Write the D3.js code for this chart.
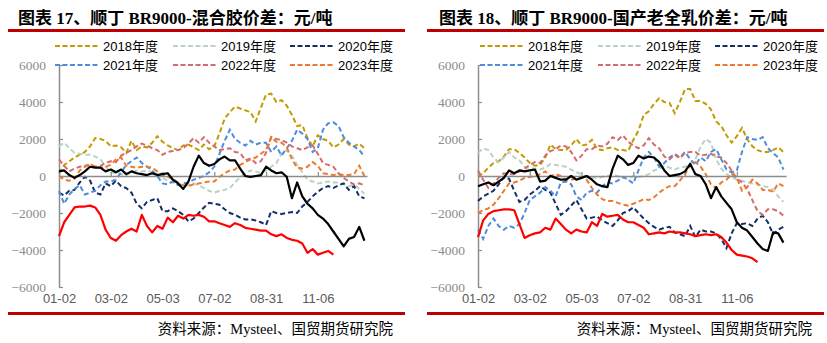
<!DOCTYPE html>
<html><head><meta charset="utf-8">
<script src="https://cdn.jsdelivr.net/npm/d3@7"></script>
<style>body{margin:0;background:#fff}</style>
</head><body><svg id="c" width="827" height="343"></svg>
<script>
// ---------- data ----------
const xTickLabels = ["01-02","03-02","05-03","07-02","08-31","11-06"];
const pointsPerTick = 10;
const nPoints = 60;
const yTicks = [-6000,-4000,-2000,0,2000,4000,6000];
const legendNames = ["2018年度","2019年度","2020年度","2021年度","2022年度","2023年度"];

// Panel 1: 顺丁 BR9000-混合胶价差
const mix2018 = [150,600,800,1000,1150,1300,1600,2050,2000,1900, 1600,1650,1550,1250,1900,1400,1600,1550,1800,2150, 1850,1650,1500,1400,1650,1700,1550,1400,1700,1450, 1600,2300,3100,3450,3750,3650,3550,3450,2950,3700, 4400,4450,4000,4100,3800,3300,2700,2750,2050,1600, 2200,2000,1900,1550,1700,2000,1700,1600,1750,1500];
const mix2019 = [1600,1800,1500,1250,1200,1150,1150,1050,900,500, 200,150,100,50,200,300,250,300,200,100, -100,-250,-350,-450,-550,-500,-400,-500,-650,-800, -900,-800,-750,-650,-350,-50,150,300,250,150, 300,500,700,1200,1400,1100,600,200,-200,-300, -400,-350,-300,-350,-350,-450,-550,-450,-700,-950];
const mix2020 = [-900,-1050,-800,-750,-350,-50,-250,-900,-1000,-400, -550,-250,-550,-650,-900,-1500,-1750,-1400,-1300,-1200, -1900,-1900,-1750,-1900,-2100,-2450,-2300,-2000,-1700,-1450, -1500,-1550,-1800,-2000,-2100,-2250,-2350,-2350,-2400,-2500, -2650,-1900,-2000,-2050,-2000,-1950,-2000,-1650,-1400,-1100, -850,-650,-550,-650,-500,-400,-750,-550,-1100,-1200];
const mix2021 = [-800,-1500,-1000,-700,-500,-1000,-900,-800,-500,-300, -300,-200,200,600,800,1000,700,500,300,0, -400,-450,-300,-500,-400,-350,-200,-100,0,200, 500,1200,1900,2500,2000,1800,1650,1900,1700,1800, 1800,1300,1600,1100,1500,1900,2500,2300,2000,1300, 1500,2500,2850,2900,2700,2100,1800,1600,1400,1050];
const mix2022 = [900,550,250,400,500,550,600,500,550,700, 800,750,1100,1250,1400,1600,1750,1650,1500,1400, 1150,1300,1350,1400,1500,1750,2050,1800,2100,1800, 1600,1400,1450,1500,1300,1250,850,950,700,800, 1250,2100,2000,1950,1800,1600,1500,1400,1550,1650, 1200,700,600,500,150,-100,-300,-450,-400,-500];
const mix2023 = [0,-200,-250,-150,300,500,650,500,450,500, 600,900,1000,550,500,450,500,500,450,250, 100,-50,-150,-350,-500,-550,-450,-400,-350,-300, -300,-50,150,300,350,600,750,900,1000,1200, 1400,2100,1850,1800,1550,900,450,400,500,750, 550,150,100,50,100,50,50,100,550,0];
const mixBlack = [250,300,50,-100,50,250,500,450,450,250, 350,200,350,100,250,150,100,50,150,50, 100,150,-200,-400,-700,-300,500,1100,700,550, 650,900,1050,850,850,400,0,-50,0,50, 500,300,150,200,-50,-1200,-350,-1100,-1500,-1750, -2100,-2300,-2600,-3000,-3400,-3800,-3400,-3300,-2750,-3500];
const mixRed = [-3250,-2500,-2100,-1700,-1650,-1650,-1600,-1700,-2100,-2900, -3350,-3500,-3200,-3000,-2850,-3000,-2100,-2700,-3050,-2700, -2850,-2250,-2500,-2150,-2300,-2100,-2150,-2100,-2200,-2450, -2450,-2550,-2650,-2750,-2550,-2650,-2800,-2850,-2900,-2950, -2950,-3150,-3250,-3150,-3350,-3450,-3500,-3650,-4150,-3950, -4250,-4150,-4050,-4250];

// Panel 2: 顺丁 BR9000-国产老全乳价差
const rub2018 = [-50,150,450,700,800,1050,1450,1450,1250,1000, 700,550,600,1000,1700,1450,1400,1400,1650,2000, 1650,1700,1950,1450,1400,1500,1550,1400,1400,1350, 1950,2450,3300,3500,3900,4200,4000,3950,3400,4000, 4700,4700,4050,4050,3900,3600,2950,2700,2200,1800, 2150,2600,2000,1600,1400,1300,1300,1400,1550,1300];
const rub2019 = [1250,1500,1400,1000,750,1000,1300,1000,850,500, 400,400,350,450,650,600,550,500,350,200, 100,-50,-100,-100,-50,0,50,0,-100,-150, 0,-50,0,100,300,400,550,450,350,450, 500,700,900,1600,2000,1800,900,400,100,-50, -200,-250,-350,-400,-450,-550,-600,-750,-1100,-1400];
const rub2020 = [-1350,-1100,-950,-800,-450,-50,-150,-800,-1400,-1300, -1000,-800,-550,-750,-900,-1500,-2100,-1900,-1600,-1300, -1800,-2300,-2250,-2200,-2400,-2550,-2700,-2400,-2000,-1900, -1700,-2000,-2300,-2550,-2750,-2900,-2800,-2750,-3050,-3150, -3250,-2700,-3300,-2900,-3000,-3000,-3100,-3400,-3900,-3100, -2550,-2600,-2550,-2700,-2300,-2150,-2500,-3150,-2900,-2750];
const rub2021 = [-2900,-3400,-2700,-2300,-2700,-2900,-2700,-2800,-2600,-2000, -1300,-1100,-900,-600,-800,-1100,-350,-300,-450,-1100, -1300,-900,-800,-900,-550,-350,-400,-250,-50,-200, -400,300,1000,1300,1000,500,700,1000,1200,1000, 1300,900,600,1000,800,1300,1450,900,350,200, 300,1300,2100,2000,1950,2100,1500,1250,1000,350];
const rub2022 = [300,-200,-650,-400,-100,150,100,100,250,400, 600,750,700,1100,1350,1450,1650,1600,1300,850, 1100,1450,1450,1650,1600,1750,2100,1950,2200,1850, 1650,1500,1650,2050,1700,1500,1050,900,1150,950, 1250,1300,1300,1100,1150,1200,1050,1000,700,300, -150,-350,-700,-1300,-1900,-2100,-1800,-1800,-1900,-2150];
const rub2023 = [-2000,-1850,-1750,-1550,-1200,-800,-400,-350,-250,-100, -50,0,100,250,0,100,0,-200,-200,-150, -50,-200,-650,-1000,-1250,-1350,-1350,-1450,-1550,-1600, -1500,-1400,-1250,-1300,-1150,-900,-700,-550,-550,-250, 100,600,750,500,100,-450,-650,-350,-200,100, -100,-800,-600,-200,-400,-750,-750,-850,-400,-550];
const rubBlack = [-550,-450,-350,-500,-300,-100,300,150,300,250, 300,350,-300,-250,0,-100,-200,-200,0,-200, -100,0,-200,-450,-550,-600,400,1100,900,600, 700,1100,950,1050,1000,750,300,0,50,100, 250,650,100,0,-450,-1200,-600,-1100,-1450,-1800, -2500,-2800,-2950,-3300,-3650,-3950,-4050,-3050,-3100,-3600];
const rubRed = [-3300,-2400,-2050,-1900,-1850,-1800,-1800,-1850,-2600,-3350, -3200,-3100,-3050,-2800,-2900,-2300,-2600,-2900,-3100,-2900, -3000,-3050,-2500,-2700,-2050,-2200,-2150,-2100,-2350,-2500, -2500,-2650,-2800,-3150,-3100,-3050,-3100,-3000,-3050,-3050, -3100,-3150,-3250,-3200,-3150,-3200,-3150,-3300,-3600,-4000, -4250,-4300,-4350,-4450,-4650];

// ---------- styles ----------
const yearColors = ["#C49A00","#B8D3C4","#142F66","#4F8CDC","#D66B6B","#EE7A2C"];
const W = 827, H = 343;
const svg = d3.select("#c");
svg.append("rect").attr("width",W).attr("height",H).attr("fill","#fff");

function panel(cfg){
  const g = svg.append("g").attr("transform",`translate(${cfg.dx},0)`);
  // title
  g.append("text").attr("x",cfg.titleX).attr("y",24)
    .attr("font-family","'Liberation Serif','Noto Sans CJK SC',serif")
    .attr("font-weight","bold").attr("font-size",17).attr("fill","#000")
    .text(cfg.title);
  g.append("rect").attr("x",8).attr("y",29).attr("width",397).attr("height",3).attr("fill","#C00000");
  g.append("rect").attr("x",8).attr("y",312).attr("width",397).attr("height",3).attr("fill","#C00000");
  g.append("text").attr("x",393).attr("y",334).attr("text-anchor","end")
    .attr("font-family","'Liberation Serif','Noto Sans CJK SC',serif")
    .attr("font-size",14.5).attr("fill","#000")
    .text("资料来源：Mysteel、国贸期货研究院");

  const x = d3.scaleLinear().domain([0, nPoints - 0.5]).range([59, 367]);
  const y = d3.scaleLinear().domain([-6000, 6000]).range([287, 65]);

  // y axis
  const ya = g.append("g").attr("transform","translate(59,0)")
    .call(d3.axisLeft(y).tickValues(yTicks).tickSizeInner(-4).tickSizeOuter(0).tickPadding(13).tickFormat(d3.format("d")));
  ya.select(".domain").attr("stroke","#8C8C8C").attr("stroke-width",1.5);
  ya.selectAll(".tick line").attr("stroke","#8C8C8C").attr("stroke-width",1.2);
  ya.selectAll("text").attr("font-family","'Liberation Serif',serif").attr("font-size",13.5).attr("fill","#8C8C8C");

  // x labels (bottom)
  const tickIdx = xTickLabels.map((d,i)=>i*pointsPerTick);
  const xb = g.append("g").attr("transform","translate(0,292)")
    .call(d3.axisBottom(x).tickValues(tickIdx).tickSize(0).tickPadding(0).tickFormat((d,i)=>xTickLabels[i]));
  xb.select(".domain").remove();
  xb.selectAll("text").attr("font-family","'Liberation Sans',Arial,sans-serif").attr("font-size",13).attr("fill","#595959").attr("dy","0.85em");

  // series
  const line = d3.line().defined(d=>d!=null).x((d,i)=>x(i)).y(d=>y(d));
  cfg.years.forEach((s,k)=>{
    g.append("path").datum(s).attr("d",line).attr("fill","none")
      .attr("stroke",yearColors[k]).attr("stroke-width",2).attr("stroke-dasharray","5,3");
  });

  // zero line axis
  const xz = g.append("g").attr("transform",`translate(0,${y(0)})`)
    .call(d3.axisTop(x).tickValues(tickIdx).tickSizeInner(4).tickSizeOuter(0).tickFormat(""));
  xz.select(".domain").attr("stroke","#8C8C8C").attr("stroke-width",1.5);
  xz.selectAll(".tick line").attr("stroke","#8C8C8C").attr("stroke-width",1.2);
  g.selectAll(".domain").attr("d", function(){ return d3.select(this).attr("d"); });

  g.append("path").datum(cfg.red).attr("d",line).attr("fill","none").attr("stroke","#FF0000").attr("stroke-width",2.2).attr("stroke-linejoin","round");
  g.append("path").datum(cfg.black).attr("d",line).attr("fill","none").attr("stroke","#000").attr("stroke-width",2.2).attr("stroke-linejoin","round");

  // legend
  const lx = [55,173,290];
  legendNames.forEach((name,k)=>{
    const cx = lx[k%3] + cfg.legendShift, cy = k<3 ? 46 : 65;
    g.append("line").attr("x1",cx).attr("x2",cx+44).attr("y1",cy).attr("y2",cy)
      .attr("stroke",yearColors[k]).attr("stroke-width",2).attr("stroke-dasharray","5,2.5");
    g.append("text").attr("x",cx+48).attr("y",cy+4.5)
      .attr("font-family","'Liberation Sans',Arial,'Noto Sans CJK SC',sans-serif")
      .attr("font-size",13).attr("fill","#000").text(name);
  });
}

panel({dx:0, titleX:18, legendShift:0,
  title:"图表 17、顺丁 BR9000-混合胶价差：元/吨",
  years:[mix2018,mix2019,mix2020,mix2021,mix2022,mix2023], black:mixBlack, red:mixRed});
panel({dx:419, titleX:20, legendShift:6,
  title:"图表 18、顺丁 BR9000-国产老全乳价差：元/吨",
  years:[rub2018,rub2019,rub2020,rub2021,rub2022,rub2023], black:rubBlack, red:rubRed});
</script>
</body></html>
